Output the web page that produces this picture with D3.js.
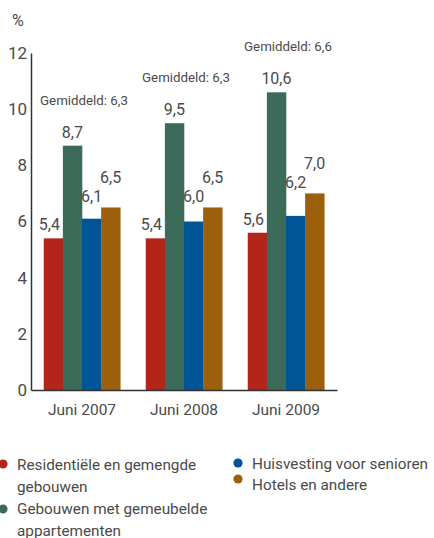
<!DOCTYPE html>
<html>
<head>
<meta charset="utf-8">
<script src="https://cdn.jsdelivr.net/npm/d3@7/dist/d3.min.js"></script>
<style>
  body { margin: 0; background: #fff; }
  svg text { font-family: Roboto, "Noto Sans", sans-serif; fill: #4a4a4a; }
</style>
</head>
<body>
<div id="chart"></div>
<script>
// data
var periods = ["Juni 2007", "Juni 2008", "Juni 2009"];
var seriesNames = ["Residentiële en gemengde gebouwen", "Gebouwen met gemeubelde appartementen",
                   "Huisvesting voor senioren", "Hotels en andere"];
var residential = [5.4, 5.4, 5.6];
var furnished   = [8.7, 9.5, 10.6];
var seniors     = [6.1, 6.0, 6.2];
var hotels      = [6.5, 6.5, 7.0];
var averages    = [6.3, 6.3, 6.6];
var yTicks      = [0, 2, 4, 6, 8, 10, 12];

var colors = ["#b3241b", "#3d6b5a", "#005596", "#9c5f0c"];
var series = [residential, furnished, seniors, hotels];

var W = 434, H = 538;
var svg = d3.select("#chart").append("svg")
    .attr("width", W)
    .attr("height", H);

//Scales
var x0 = d3.scaleBand()
    .domain(periods)
    .range([31, 337])
    .paddingInner(0.25)
    .paddingOuter(0.125);

var x1 = d3.scaleBand()
    .domain(d3.range(series.length))
    .range([0, x0.bandwidth()]);

var y = d3.scaleLinear()
    .domain([0, 12])
    .range([390, 53]);

//Bars
var groups = svg.selectAll("g.period")
    .data(periods)
    .enter().append("g")
    .attr("class", "period")
    .attr("transform", function(d) { return "translate(" + x0(d) + ",0)"; });

groups.each(function(p, i) {
    var g = d3.select(this);
    var vals = series.map(function(s) { return s[i]; });

    g.selectAll("rect")
        .data(vals)
        .enter().append("rect")
        .attr("x", function(d, j) { return x1(j); })
        .attr("width", x1.bandwidth() + 0.3)
        .attr("y", function(d) { return y(d); })
        .attr("height", function(d) { return y(0) - y(d); })
        .attr("fill", function(d, j) { return colors[j]; });

    //value labels, staggered like in the original
    var fmt = function(v) { return v.toFixed(1).replace(".", ","); };
    var cx = function(j) { return x1(j) + x1.bandwidth() / 2; };
    var yOrange = y(vals[3]) - 24;
    var labelPos = [
        {x: cx(0) - 4, y: y(vals[0]) - 8},
        {x: cx(1),     y: y(vals[1]) - 8},
        {x: cx(2),     y: yOrange + 19},
        {x: cx(3),     y: yOrange}
    ];
    g.selectAll("text.val")
        .data(vals)
        .enter().append("text")
        .attr("class", "val")
        .attr("x", function(d, j) { return labelPos[j].x; })
        .attr("y", function(d, j) { return labelPos[j].y; })
        .attr("text-anchor", "middle")
        .attr("font-size", 16)
        .text(fmt);

    g.append("text")
        .attr("x", x0.bandwidth() / 2 + 2)
        .attr("y", y(vals[1]) - 41)
        .attr("text-anchor", "middle")
        .attr("font-size", 13.3)
        .text("Gemiddeld: " + fmt(averages[i]));
});

//Axes
var yAxis = d3.axisLeft(y)
    .tickValues(yTicks)
    .tickSize(0)
    .tickSizeOuter(0)
    .tickPadding(4);

var ya = svg.append("g")
    .attr("transform", "translate(31,0)")
    .call(yAxis);
ya.select(".domain").attr("stroke", "#333").attr("stroke-width", 1.5);
ya.selectAll("text")
    .attr("font-size", 17)
    .attr("fill", "#4a4a4a")
    .attr("font-family", null);

var xAxis = d3.axisBottom(x0)
    .tickSize(0)
    .tickSizeOuter(0)
    .tickPadding(14);

var xa = svg.append("g")
    .attr("transform", "translate(0," + y(0) + ")")
    .call(xAxis);
xa.select(".domain").attr("stroke", "#333").attr("stroke-width", 1.5);
xa.selectAll("text")
    .attr("font-size", 15.5)
    .attr("fill", "#4a4a4a")
    .attr("font-family", null);

svg.append("text")
    .attr("x", 12)
    .attr("y", 26)
    .attr("font-size", 16)
    .text("%");

//Legend
var legendItems = [
    {i: 0, x: 17,  y: 470, lines: ["Residentiële en gemengde", "gebouwen"], dy: -6},
    {i: 1, x: 17,  y: 514, lines: ["Gebouwen met gemeubelde", "appartementen"], dy: -5},
    {i: 2, x: 252, y: 469, lines: ["Huisvesting voor senioren"], dy: -6},
    {i: 3, x: 252, y: 490, lines: ["Hotels en andere"], dy: -11}
];

var leg = svg.selectAll("g.legend")
    .data(legendItems)
    .enter().append("g")
    .attr("class", "legend");

leg.append("circle")
    .attr("cx", function(d) { return d.x - 14; })
    .attr("cy", function(d) { return d.y + d.dy; })
    .attr("r", 4.6)
    .attr("fill", function(d) { return colors[d.i]; });

leg.append("text")
    .attr("font-size", 15.3)
    .attr("y", function(d) { return d.y; })
    .each(function(d) {
        var t = d3.select(this);
        d.lines.forEach(function(l, k) {
            t.append("tspan")
                .attr("x", d.x)
                .attr("dy", k === 0 ? 0 : 21.5)
                .text(l);
        });
    });
</script>
</body>
</html>
